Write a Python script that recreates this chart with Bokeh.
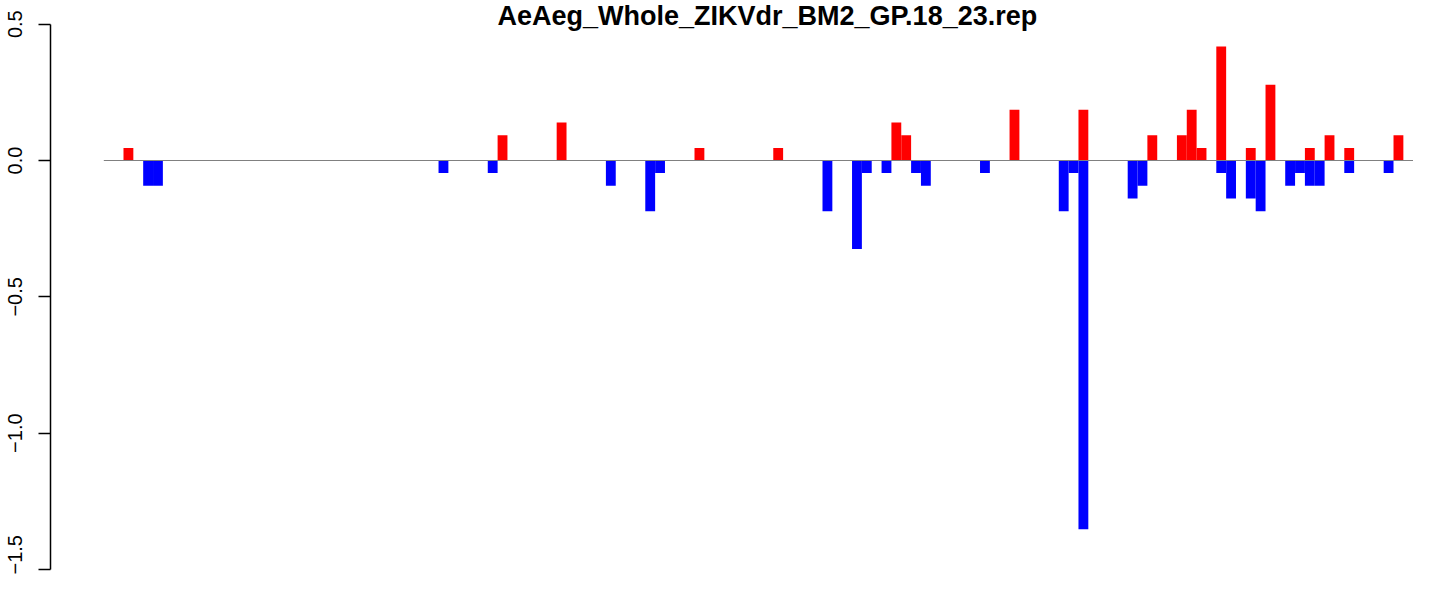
from bokeh.plotting import figure
from bokeh.models import Range1d, Label, FixedTicker
from bokeh.embed import file_html
from bokeh.resources import INLINE

# ---- data (slot index, value) ----
title_text = "AeAeg_Whole_ZIKVdr_BM2_GP.18_23.rep"

up_pos = [2, 40, 46, 60, 68, 80, 81, 92, 99, 106, 109, 110, 111, 113, 116, 118, 122, 124, 126, 131]
up_val = [0.046, 0.093, 0.139, 0.046, 0.046, 0.139, 0.093, 0.186, 0.186, 0.093,
          0.093, 0.186, 0.046, 0.418, 0.046, 0.278, 0.046, 0.093, 0.046, 0.093]

down_pos = [4, 5, 34, 39, 51, 55, 56, 73, 76, 77, 79, 82, 83, 89, 97, 98, 99,
            104, 105, 113, 114, 116, 117, 120, 121, 122, 123, 126, 130]
down_val = [-0.093, -0.093, -0.046, -0.046, -0.093, -0.186, -0.046, -0.186, -0.325,
            -0.046, -0.046, -0.046, -0.093, -0.046, -0.186, -0.046, -1.352, -0.139,
            -0.093, -0.046, -0.139, -0.139, -0.186, -0.093, -0.046, -0.093, -0.093,
            -0.046, -0.046]

n_slots = 140
y_ticks = [-1.5, -1.0, -0.5, 0.0, 0.5]
y_tick_labels = ["\u22121.5", "\u22121.0", "\u22120.5", "0.0", "0.5"]

FONT = "Liberation Sans"

p = figure(width=1413, height=574, output_backend="svg", toolbar_location=None,
           x_range=Range1d(-5.414, 133.03), y_range=Range1d(-1.5183, 0.5868),
           x_axis_location=None, y_axis_location="left",
           min_border_left=50, min_border_right=0, min_border_top=0, min_border_bottom=0)
p.outline_line_color = None
p.grid.visible = False
p.background_fill_color = "white"
p.border_fill_color = "white"

p.vbar(x=[i + 0.5 for i in up_pos], top=up_val, bottom=0, width=1.0,
       fill_color="#ff0000", line_color=None)
p.vbar(x=[i + 0.5 for i in down_pos], top=down_val, bottom=0, width=1.0,
       fill_color="#0000ff", line_color=None)
p.line(x=[0, n_slots], y=[0, 0], line_color="#808080", line_width=1.2)

ax = p.yaxis[0]
ax.ticker = FixedTicker(ticks=y_ticks)
ax.major_label_overrides = {t: s for t, s in zip(y_ticks, y_tick_labels)}
ax.bounds = (-1.5, 0.5)
ax.axis_line_color = "black"
ax.axis_line_width = 1.5
ax.major_tick_line_color = "black"
ax.major_tick_line_width = 1.5
ax.major_tick_out = 12
ax.major_tick_in = 0
ax.minor_tick_line_color = None
ax.major_label_orientation = "vertical"
ax.major_label_standoff = 16
ax.major_label_text_font = FONT
ax.major_label_text_font_size = "20px"
ax.major_label_text_color = "black"

title = Label(x=67.4, y=0.529, text=title_text, text_align="center",
              text_baseline="alphabetic", text_font=FONT, text_font_style="bold",
              text_font_size="27px", text_color="black")
p.add_layout(title)

open("out.html", "w").write(file_html(p, INLINE))
